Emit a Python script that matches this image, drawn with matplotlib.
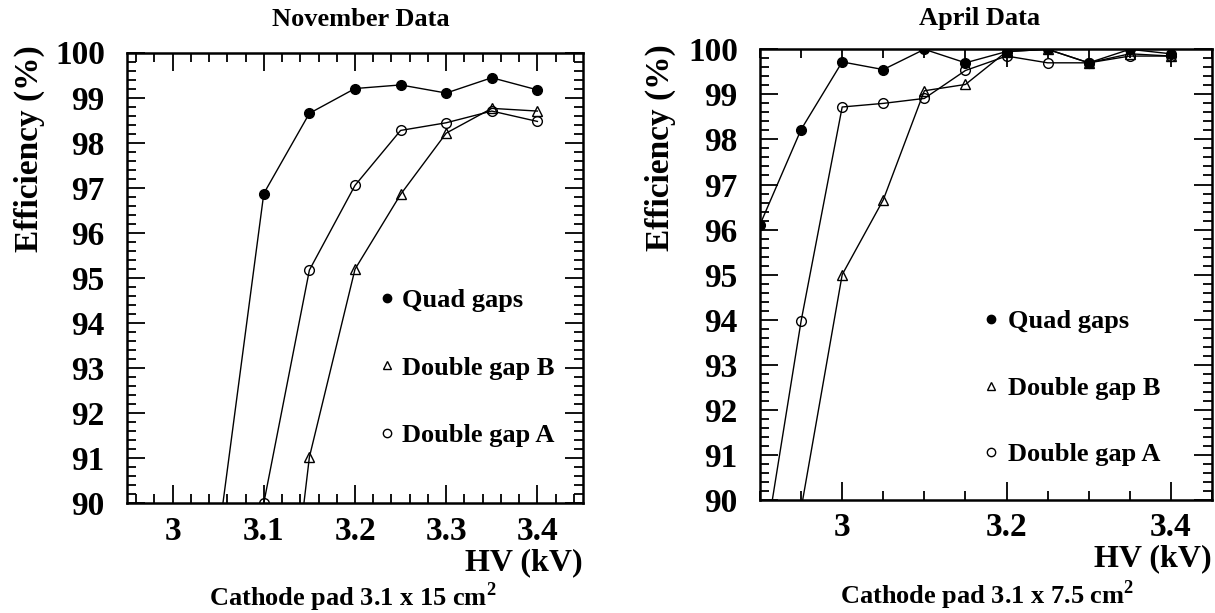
import matplotlib
matplotlib.use('Agg')
import matplotlib.pyplot as plt
from matplotlib.lines import Line2D
from matplotlib.ticker import MultipleLocator, FormatStrFormatter

plt.rcParams['font.family'] = ['Liberation Serif', 'DejaVu Serif']
plt.rcParams['font.weight'] = 'bold'
plt.rcParams['mathtext.fontset'] = 'custom'
plt.rcParams['mathtext.rm'] = 'Liberation Serif:bold'

# November data (HV in kV, efficiency in %)
nov_hv_quad = [3.05, 3.10, 3.15, 3.20, 3.25, 3.30, 3.35, 3.40]
nov_quad = [89.2, 96.87, 98.65, 99.20, 99.28, 99.10, 99.44, 99.17]
nov_hv_b = [3.10, 3.15, 3.20, 3.25, 3.30, 3.35, 3.40]
nov_b = [82.5, 91.02, 95.19, 96.85, 98.21, 98.76, 98.70]
nov_hv_a = [3.10, 3.15, 3.20, 3.25, 3.30, 3.35, 3.40]
nov_a = [90.0, 95.17, 97.05, 98.27, 98.44, 98.70, 98.47]

# April data
apr_hv_quad = [2.90, 2.95, 3.00, 3.05, 3.10, 3.15, 3.20, 3.25, 3.30, 3.35, 3.40]
apr_quad = [96.11, 98.22, 99.72, 99.55, 100.0, 99.70, 99.95, 100.0, 99.70, 100.0, 99.90]
apr_hv_b = [2.95, 3.00, 3.05, 3.10, 3.15, 3.20, 3.25, 3.30, 3.35, 3.40]
apr_b = [89.8, 95.0, 96.66, 99.08, 99.22, 99.95, 100.0, 99.70, 99.90, 99.85]
apr_hv_a = [2.90, 2.95, 3.00, 3.05, 3.10, 3.15, 3.20, 3.25, 3.30, 3.35, 3.40]
apr_a = [88.3, 93.97, 98.72, 98.80, 98.91, 99.53, 99.85, 99.70, 99.70, 99.85, 99.85]

labels = ['Quad gaps', 'Double gap B', 'Double gap A']

W, H = 1215, 613
fig = plt.figure(figsize=(W / 100, H / 100), dpi=100)


def px_axes(x0, x1, y0, y1):
    return fig.add_axes([x0 / W, 1 - y1 / H, (x1 - x0) / W, (y1 - y0) / H])


def draw_panel(ax, series, xlim, xmajor, xminor, leg_anchor, leg_gap, leg_spacing):
    for hv, eff, mk, fc in series:
        ax.plot(hv, eff, color='black', lw=1.0, marker=mk, ms=7,
                mfc=fc, mec='black', mew=1.0)
    ax.set_xlim(*xlim)
    ax.set_ylim(90, 100)
    ax.xaxis.set_major_locator(MultipleLocator(xmajor))
    ax.xaxis.set_minor_locator(MultipleLocator(xminor))
    ax.yaxis.set_major_locator(MultipleLocator(1))
    ax.yaxis.set_minor_locator(MultipleLocator(0.2))
    ax.xaxis.set_major_formatter(FormatStrFormatter('%g'))
    ax.yaxis.set_major_formatter(FormatStrFormatter('%g'))
    ax.tick_params(which='both', direction='in', top=True, right=True, width=1.3)
    ax.tick_params(which='major', length=13, labelsize=24)
    ax.tick_params(which='minor', length=6.5)
    ax.tick_params(axis='y', pad=16)
    ax.tick_params(axis='x', pad=9)
    for s in ax.spines.values():
        s.set_linewidth(1.8)
    handles = [Line2D([], [], ls='none', marker=mk, ms=6, mfc=fc, mec='black', mew=1.0)
               for _, _, mk, fc in series]
    ax.legend(handles, labels, loc='center left', bbox_to_anchor=leg_anchor,
              frameon=False, fontsize=19, handlelength=0.5, handletextpad=leg_gap,
              labelspacing=leg_spacing, borderpad=0, borderaxespad=0)


# left panel
ax1 = px_axes(127, 583, 52.5, 503)
draw_panel(ax1,
           [(nov_hv_quad, nov_quad, 'o', 'black'),
            (nov_hv_b, nov_b, '^', 'none'),
            (nov_hv_a, nov_a, 'o', 'none')],
           (2.95, 3.45), 0.1, 0.02, (0.556, 0.30), 0.32, 1.66)
ax1.text(-0.215, 1.017, 'Efficiency (%)', transform=ax1.transAxes, rotation=90,
         ha='center', va='top', fontsize=24)
ax1.text(1.0, -0.133, 'HV (kV)', transform=ax1.transAxes, ha='right', va='center',
         fontsize=23)
fig.text(361 / W, 1 - 19 / H, 'November Data', ha='center', va='center', fontsize=19)
fig.text(353 / W, 1 - 597 / H, r'Cathode pad 3.1 x 15 cm$^{2}$', ha='center',
         va='center', fontsize=19)

# right panel
ax2 = px_axes(760, 1212, 49.3, 500)
draw_panel(ax2,
           [(apr_hv_quad, apr_quad, 'o', 'black'),
            (apr_hv_b, apr_b, '^', 'none'),
            (apr_hv_a, apr_a, 'o', 'none')],
           (2.90, 3.45), 0.2, 0.05, (0.4965, 0.248), 0.39, 1.63)
ax2.text(-0.221, 1.012, 'Efficiency (%)', transform=ax2.transAxes, rotation=90,
         ha='center', va='top', fontsize=24)
ax2.text(1.0, -0.131, 'HV (kV)', transform=ax2.transAxes, ha='right', va='center',
         fontsize=23)
fig.text(980 / W, 1 - 19 / H, 'April Data', ha='center', va='center', fontsize=19)
fig.text(987 / W, 1 - 595 / H, r'Cathode pad 3.1 x 7.5 cm$^{2}$', ha='center',
         va='center', fontsize=19)

fig.savefig('out.png', dpi=100)
